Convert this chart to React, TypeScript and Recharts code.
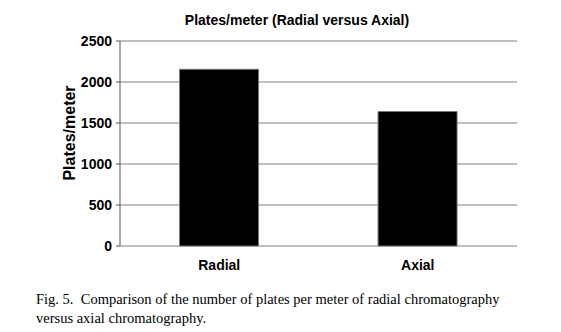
import { BarChart, Bar, XAxis, YAxis, CartesianGrid, Label } from "recharts"

const categories = ["Radial", "Axial"]
const platesPerMeter = [2155, 1640]
const yTicks = [0, 500, 1000, 1500, 2000, 2500]
const edgeTicks = [0, 1, 2]

const SANS = "'Liberation Sans', Arial, sans-serif"

const data = categories.map((name, i) => ({ name, value: platesPerMeter[i] }))

// rotated axis title, sits a little above the plot's middle like the original
function YTitle() {
  return (
    <text
      transform="translate(69,133) rotate(-90)"
      textAnchor="middle"
      dominantBaseline="central"
      fill="#000"
      fontSize={16}
      fontWeight="bold"
      fontFamily={SANS}
    >
      Plates/meter
    </text>
  )
}

export default function App() {
  return (
    <div style={{ position: "absolute", top: 0, left: 0, width: 561, height: 332, background: "#fff" }}>
      <div
        style={{
          position: "absolute",
          top: 11,
          left: 0,
          width: 594,
          textAlign: "center",
          fontFamily: SANS,
          fontWeight: "bold",
          fontSize: 14,
          lineHeight: "18px",
          color: "#000",
        }}
      >
        Plates/meter (Radial versus Axial)
      </div>
      <div style={{ position: "absolute", top: 0, left: 0 }}>
        <BarChart
          width={561}
          height={280}
          data={data}
          margin={{ top: 41, right: 44, left: 0, bottom: 4 }}
          barCategoryGap="30%"
        >
          <CartesianGrid horizontal vertical={false} stroke="#808080" strokeWidth={1} />
          <XAxis
            xAxisId="edges"
            type="number"
            domain={[0, 2]}
            ticks={edgeTicks}
            height={0}
            axisLine={{ stroke: "#555", strokeWidth: 1 }}
            tickLine={{ stroke: "#555" }}
            tickSize={4}
            tickFormatter={() => ""}
          />
          <XAxis
            dataKey="name"
            height={30}
            axisLine={false}
            tickLine={false}
            tick={{ fill: "#000", fontSize: 14, fontWeight: "bold", fontFamily: SANS }}
            tickMargin={8}
          />
          <YAxis
            width={120}
            domain={[0, 2500]}
            ticks={yTicks}
            interval={0}
            axisLine={{ stroke: "#555", strokeWidth: 1 }}
            tickLine={{ stroke: "#555" }}
            tickSize={4}
            tickMargin={4}
            tick={{ fill: "#000", fontSize: 14, fontWeight: "bold", fontFamily: SANS }}
          >
            <Label content={<YTitle />} />
          </YAxis>
          <Bar dataKey="value" fill="#000" stroke="#777" strokeWidth={1} isAnimationActive={false} />
        </BarChart>
      </div>
      <div
        style={{
          position: "absolute",
          top: 290,
          left: 36,
          width: 500,
          fontFamily: "'Liberation Serif', 'Times New Roman', serif",
          fontSize: 14.5,
          lineHeight: "19px",
          color: "#000",
        }}
      >
        Fig. 5.&nbsp; Comparison of the number of plates per meter of radial chromatography versus axial chromatography.
      </div>
    </div>
  )
}
